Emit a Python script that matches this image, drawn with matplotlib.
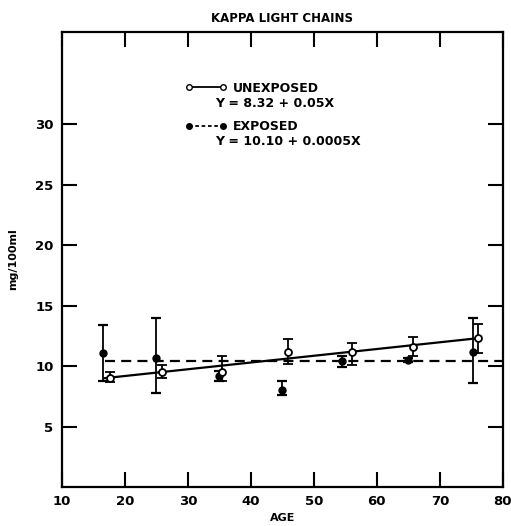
import numpy as np
import matplotlib.pyplot as plt
from matplotlib.lines import Line2D

# unexposed group (open circles)
unexp_age = [17.6, 25.9, 35.5, 45.9, 56.0, 65.7, 76.0]
unexp_mean = [9.0, 9.5, 9.5, 11.2, 11.2, 11.6, 12.3]
unexp_low = [8.7, 9.0, 8.8, 10.2, 10.1, 10.8, 11.1]
unexp_high = [9.5, 10.1, 10.8, 12.2, 11.9, 12.4, 13.5]

# exposed group (filled circles)
exp_age = [16.5, 25.0, 35.0, 44.9, 54.5, 64.9, 75.2]
exp_mean = [11.1, 10.7, 9.2, 8.0, 10.4, 10.5, 11.2]
exp_low = [8.8, 7.8, 8.8, 7.6, 9.9, 10.3, 8.6]
exp_high = [13.4, 14.0, 9.6, 8.8, 10.8, 10.7, 14.0]

# regression lines as drawn
unexp_fit_x = [16.8, 76.0]
unexp_fit_y = [9.0, 12.3]
exp_fit_x = [16.8, 80.0]
exp_fit_y = [10.4, 10.4]

x_ticks = [10, 20, 30, 40, 50, 60, 70, 80]
y_ticks = [5, 10, 15, 20, 25, 30]

plt.rcParams['font.family'] = 'DejaVu Sans'
plt.rcParams['font.weight'] = 'bold'

fig = plt.figure(figsize=(5.11, 5.26), dpi=100)
ax = fig.add_axes([0.121, 0.074, 0.863, 0.865])

ux = np.array(unexp_age)
uy = np.array(unexp_mean)
ex = np.array(exp_age)
ey = np.array(exp_mean)

ax.plot(unexp_fit_x, unexp_fit_y, color='black', lw=1.6, zorder=2)
ax.plot(exp_fit_x, exp_fit_y, color='black', lw=1.6, ls=(0, (4.5, 2.8)), zorder=2)

ax.errorbar(ux, uy, yerr=[uy - np.array(unexp_low), np.array(unexp_high) - uy],
            fmt='o', color='black', mfc='white', mec='black', mew=1.3, ms=5,
            elinewidth=1.3, capsize=3.5, capthick=1.6, zorder=4)
ax.errorbar(ex, ey, yerr=[ey - np.array(exp_low), np.array(exp_high) - ey],
            fmt='o', color='black', mfc='black', mec='black', ms=5,
            elinewidth=1.3, capsize=3.5, capthick=1.6, zorder=3)

ax.set_xlim(10, 80)
ax.set_ylim(0, 37.6)
ax.set_xticks(x_ticks)
ax.set_yticks(y_ticks)
ax.set_xticklabels([str(t) for t in x_ticks], fontsize=9.5, fontweight='bold')
ax.set_yticklabels([str(t) for t in y_ticks], fontsize=9.5, fontweight='bold')
ax.tick_params(direction='in', length=11, width=1.5, top=True, right=True, pad=6)
for s in ax.spines.values():
    s.set_linewidth(1.6)

ax.set_xlabel('AGE', fontsize=8, fontweight='bold', labelpad=3)
ax.set_ylabel('mg/100ml', fontsize=8, fontweight='bold', labelpad=12)
ax.set_title('KAPPA LIGHT CHAINS', fontsize=8.5, fontweight='bold', pad=7)

handles = [
    Line2D([], [], color='black', lw=1.3, marker='o', mfc='white', mec='black', ms=4),
    Line2D([], [], color='black', lw=1.3, ls=(0, (2, 1.5)), marker='o', mfc='black', mec='black', ms=4),
]
ax.legend(handles, ['UNEXPOSED', 'EXPOSED'], loc='upper left', bbox_to_anchor=(0.255, 0.916),
          frameon=False, numpoints=2, handlelength=3.3, handletextpad=0.5,
          labelspacing=2.05, prop={'size': 9, 'weight': 'bold'})
ax.text(0.347, 0.844, 'Y = 8.32 + 0.05X', transform=ax.transAxes, fontsize=9,
        fontweight='bold', va='center')
ax.text(0.347, 0.760, 'Y = 10.10 + 0.0005X', transform=ax.transAxes, fontsize=9,
        fontweight='bold', va='center')

fig.savefig('out.png', dpi=100)
